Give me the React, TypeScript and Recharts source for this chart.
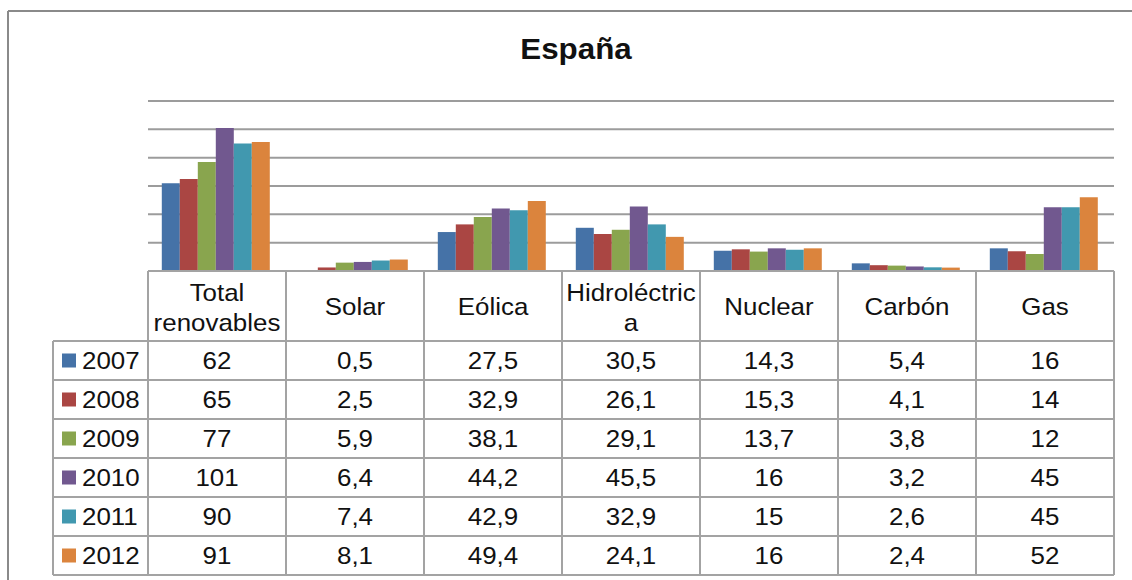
import React from "react";
import { BarChart, Bar, XAxis, YAxis, CartesianGrid } from "recharts";

const categories = ["Total renovables", "Solar", "Eólica", "Hidroléctrica", "Nuclear", "Carbón", "Gas"];
const years = ["2007", "2008", "2009", "2010", "2011", "2012"];

const v2007 = [62, 0.5, 27.5, 30.5, 14.3, 5.4, 16];
const v2008 = [65, 2.5, 32.9, 26.1, 15.3, 4.1, 14];
const v2009 = [77, 5.9, 38.1, 29.1, 13.7, 3.8, 12];
const v2010 = [101, 6.4, 44.2, 45.5, 16, 3.2, 45];
const v2011 = [90, 7.4, 42.9, 32.9, 15, 2.6, 45];
const v2012 = [91, 8.1, 49.4, 24.1, 16, 2.4, 52];

const yTicks = [0, 20, 40, 60, 80, 100, 120];

const series = [v2007, v2008, v2009, v2010, v2011, v2012];
const colors = ["#4572A7", "#AA4643", "#89A54E", "#71588F", "#4198AF", "#DB843D"];

// header labels wrap the way the original table wraps them
const headerLines: Record<string, string[]> = {
  "Total renovables": ["Total", "renovables"],
  "Hidroléctrica": ["Hidroléctric", "a"],
};

const data = categories.map((name, i) => {
  const row: Record<string, string | number> = { name };
  years.forEach((y, k) => {
    row[y] = series[k][i];
  });
  return row;
});

const W = 1132;
const H = 580;
const PLOT_LEFT = 148;
const PLOT_RIGHT = 1114;
const PLOT_TOP = 101;
const PLOT_BOTTOM = 271;
const LEGEND_LEFT = 53;
const HEADER_BOTTOM = 341;
const ROW_H = 39;
const COL_W = (PLOT_RIGHT - PLOT_LEFT) / categories.length;

const FONT = "'Liberation Sans', Arial, sans-serif";
const LINE = "#a3a3a3";
const FS = 24;
const SX = 1.08;

const fmt = (v: number) => String(v).replace(".", ",");

const Txt = ({ x, y, children, anchor = "middle", size = FS, bold = false }: any) => (
  <g transform={`translate(${x},${y}) scale(${SX},1)`}>
    <text
      x={0}
      y={0}
      textAnchor={anchor}
      fontFamily={FONT}
      fontSize={size}
      fontWeight={bold ? 700 : 400}
      fill="#111"
    >
      {children}
    </text>
  </g>
);

const DataTable = () => {
  const tableBottom = HEADER_BOTTOM + ROW_H * years.length;
  return (
    <svg width={W} height={H} style={{ position: "absolute", left: 0, top: 0 }}>
      {/* outer frame */}
      <line x1={8} y1={11} x2={W} y2={11} stroke="#8a8a8a" strokeWidth={2} />
      <line x1={8} y1={11} x2={8} y2={H} stroke="#8a8a8a" strokeWidth={2} />

      <Txt x={576} y={59} size={29} bold>
        España
      </Txt>

      {/* grid of the table */}
      <line x1={PLOT_LEFT} y1={PLOT_BOTTOM} x2={PLOT_RIGHT} y2={PLOT_BOTTOM} stroke={LINE} strokeWidth={2} />
      {years.map((_, r) => (
        <line
          key={"h" + r}
          x1={LEGEND_LEFT}
          y1={HEADER_BOTTOM + ROW_H * r}
          x2={PLOT_RIGHT}
          y2={HEADER_BOTTOM + ROW_H * r}
          stroke={LINE}
          strokeWidth={2}
        />
      ))}
      <line x1={LEGEND_LEFT} y1={tableBottom} x2={PLOT_RIGHT} y2={tableBottom} stroke={LINE} strokeWidth={2} />
      <line x1={LEGEND_LEFT} y1={HEADER_BOTTOM} x2={LEGEND_LEFT} y2={tableBottom} stroke={LINE} strokeWidth={2} />
      {categories.map((_, c) => (
        <line
          key={"v" + c}
          x1={Math.round(PLOT_LEFT + COL_W * c)}
          y1={PLOT_BOTTOM}
          x2={Math.round(PLOT_LEFT + COL_W * c)}
          y2={tableBottom}
          stroke={LINE}
          strokeWidth={2}
        />
      ))}
      <line x1={PLOT_RIGHT} y1={PLOT_BOTTOM} x2={PLOT_RIGHT} y2={tableBottom} stroke={LINE} strokeWidth={2} />

      {/* header */}
      {categories.map((cat, c) => {
        const cx = PLOT_LEFT + COL_W * (c + 0.5);
        const lines = headerLines[cat];
        if (lines) {
          return (
            <g key={"hd" + c}>
              <Txt x={cx} y={301}>{lines[0]}</Txt>
              <Txt x={cx} y={331}>{lines[1]}</Txt>
            </g>
          );
        }
        return (
          <Txt key={"hd" + c} x={cx} y={315}>
            {cat}
          </Txt>
        );
      })}

      {/* rows */}
      {years.map((yr, r) => {
        const cy = HEADER_BOTTOM + ROW_H * (r + 0.5);
        return (
          <g key={"r" + r}>
            <rect x={62} y={cy - 7} width={14} height={14} fill={colors[r]} />
            <Txt x={82} y={cy + 8.7} anchor="start">
              {yr}
            </Txt>
            {series[r].map((v, c) => (
              <Txt key={c} x={PLOT_LEFT + COL_W * (c + 0.5)} y={cy + 8.7}>
                {fmt(v)}
              </Txt>
            ))}
          </g>
        );
      })}
    </svg>
  );
};

export default function App() {
  return (
    <div style={{ position: "absolute", left: 0, top: 0, width: W, height: H, background: "#fff", overflow: "hidden" }}>
      <div style={{ position: "absolute", left: 0, top: 0 }}>
        <BarChart
          width={W}
          height={H}
          data={data}
          barCategoryGap="10%"
          barGap={0}
          margin={{ top: PLOT_TOP, right: W - PLOT_RIGHT, left: PLOT_LEFT, bottom: H - PLOT_BOTTOM }}
        >
          <CartesianGrid vertical={false} stroke="#9c9c9c" strokeWidth={2} />
          <XAxis dataKey="name" hide />
          <YAxis hide domain={[0, 120]} ticks={yTicks} />
          {years.map((y, k) => (
            <Bar key={y} dataKey={y} fill={colors[k]} isAnimationActive={false} />
          ))}
        </BarChart>
      </div>
      <DataTable />
    </div>
  );
}
